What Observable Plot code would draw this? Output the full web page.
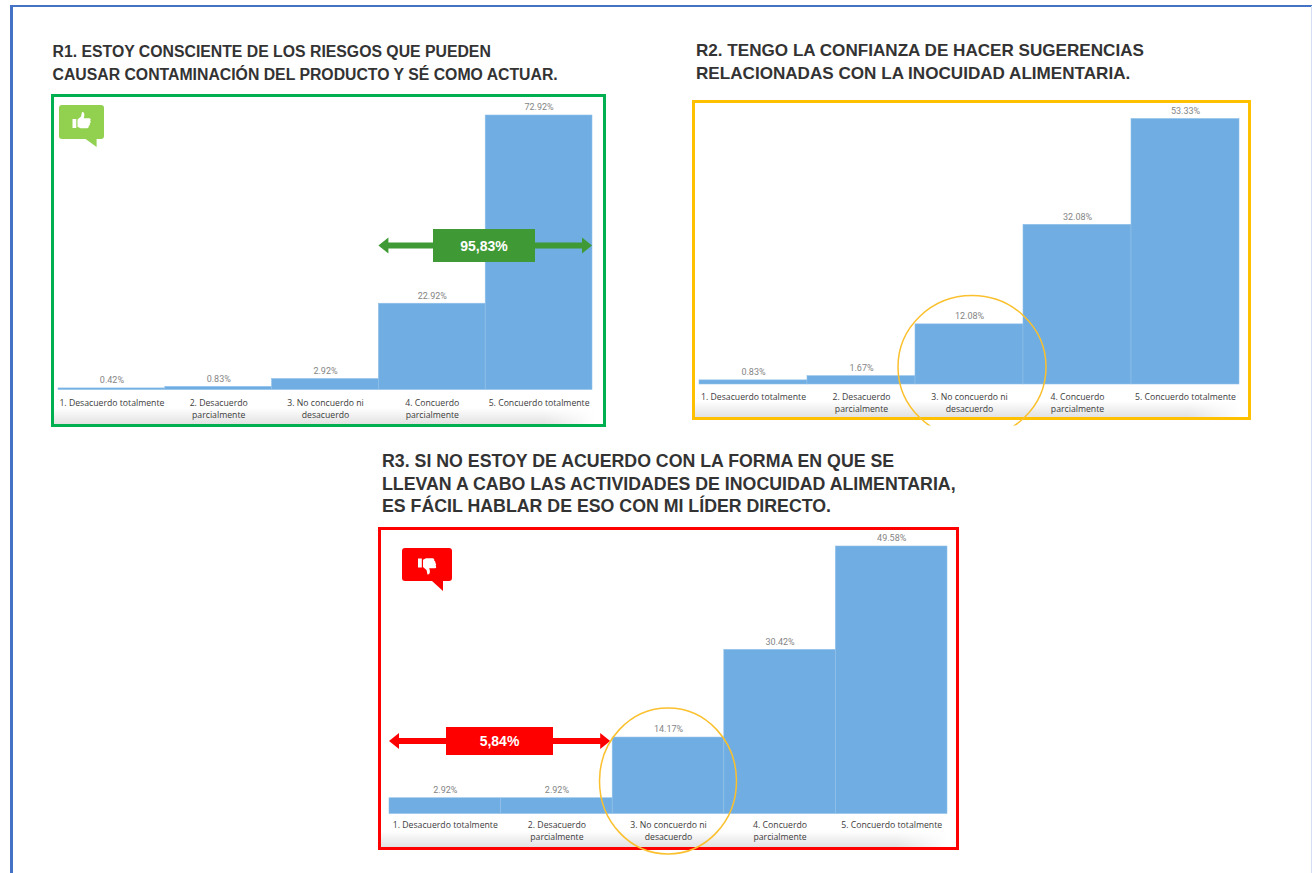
<!DOCTYPE html>
<html lang="es">
<head>
<meta charset="utf-8">
<script src="https://cdn.jsdelivr.net/npm/d3@7"></script>
<script src="https://cdn.jsdelivr.net/npm/@observablehq/plot@0.6"></script>
<style>
  html, body { margin: 0; padding: 0; background: #fff; }
  #page { position: relative; width: 1312px; height: 873px; overflow: hidden; background: #fff; }
  #rule-top { position: absolute; left: 10px; top: 4.5px; right: 0; height: 2.5px; background: #4472c4; }
  #rule-left { position: absolute; left: 10px; top: 4.5px; bottom: 0; width: 2.5px; background: #4472c4; }
  #rule-right { position: absolute; right: 0; top: 6px; bottom: 0; width: 1px; background: #d5dff1; }
  .title { position: absolute; font: bold 15.8px/22.5px "Liberation Sans", sans-serif; color: #333; white-space: pre; }
  .frame { position: absolute; box-sizing: border-box; border-style: solid; border-width: 3.5px;
           background:
             linear-gradient(to right, rgba(255,255,255,0) calc(100% - 60px), #fff calc(100% - 8px)),
             linear-gradient(to bottom, #fff 0, #fff calc(100% - 16px), #e2e2e2 100%); }
  .chart { position: absolute; left: 0; top: 0; }
  .badge { position: absolute; }
</style>
</head>
<body>
<div id="page">
  <div id="rule-top"></div>
  <div id="rule-left"></div>
  <div id="rule-right"></div>
</div>
<script>
// Likert scale shared by the three questions
const categories = [
  "1. Desacuerdo totalmente",
  "2. Desacuerdo\nparcialmente",
  "3. No concuerdo ni\ndesacuerdo",
  "4. Concuerdo\nparcialmente",
  "5. Concuerdo totalmente"
];

// Percentage of answers per category
const r1Values = [0.42, 0.83, 2.92, 22.92, 72.92];
const r2Values = [0.83, 1.67, 12.08, 32.08, 53.33];
const r3Values = [2.92, 2.92, 14.17, 30.42, 49.58];

const r1Title = "R1. ESTOY CONSCIENTE DE LOS RIESGOS QUE PUEDEN\nCAUSAR CONTAMINACIÓN DEL PRODUCTO Y SÉ COMO ACTUAR.";
const r2Title = "R2. TENGO LA CONFIANZA DE HACER SUGERENCIAS\nRELACIONADAS CON LA INOCUIDAD ALIMENTARIA.";
const r3Title = "R3. SI NO ESTOY DE ACUERDO CON LA FORMA EN QUE SE\nLLEVAN A CABO LAS ACTIVIDADES DE INOCUIDAD ALIMENTARIA,\nES FÁCIL HABLAR DE ESO CON MI LÍDER DIRECTO.";

const r1Span = "95,83%";
const r3Span = "5,84%";

const page = document.getElementById("page");

// Double-headed arrow with a label box, spanning whole category bands
function spanArrow({from, to, y, color, label, boxWidth, boxHeight, centre, trim = 0}) {
  return (index, {x}, values, dims) => {
    const band = (dims.width - dims.marginLeft - dims.marginRight) / categories.length;
    const x1 = x(categories[from]);
    const x2 = x(categories[to]) + band - trim;
    const g = d3.create("svg:g");
    const head = 10, half = 8, thick = 3;
    g.append("path").attr("fill", color).attr("d",
      `M${x1},${y} L${x1 + head},${y - half} L${x1 + head},${y - thick} L${x2 - head},${y - thick}
       L${x2 - head},${y - half} L${x2},${y} L${x2 - head},${y + half} L${x2 - head},${y + thick}
       L${x1 + head},${y + thick} L${x1 + head},${y + half} Z`);
    g.append("rect").attr("fill", color)
      .attr("x", centre - boxWidth / 2).attr("y", y - boxHeight / 2)
      .attr("width", boxWidth).attr("height", boxHeight);
    g.append("text").text(label).attr("fill", "#fff")
      .attr("x", centre).attr("y", y).attr("dy", "0.36em")
      .attr("text-anchor", "middle")
      .style("font", "bold 14px 'Liberation Sans', sans-serif");
    return g.node();
  };
}

// Highlight ring around the neutral category, optionally cut off below
function ring({cy, rx, ry, shift = 0, clipBottom = null}) {
  return (index, {x}, values, dims) => {
    const band = (dims.width - dims.marginLeft - dims.marginRight) / categories.length;
    const cx = x(categories[2]) + band / 2 + shift;
    const g = d3.create("svg:g");
    const e = g.append("ellipse").attr("cx", cx).attr("cy", cy).attr("rx", rx).attr("ry", ry)
      .attr("fill", "none").attr("stroke", "#fbc02d").attr("stroke-width", 1.5);
    if (clipBottom != null) {
      g.append("clipPath").attr("id", "ring-clip")
        .append("rect").attr("x", cx - rx - 5).attr("y", cy - ry - 5)
        .attr("width", 2 * rx + 10).attr("height", clipBottom - cy + ry + 5);
      e.attr("clip-path", "url(#ring-clip)");
    }
    return g.node();
  };
}

function drawPanel({values, title, titleX, titleY, titleSize, frame, color, plot, extras = []}) {
  const t = document.createElement("div");
  t.className = "title";
  t.style.left = titleX + "px";
  t.style.top = titleY + "px";
  t.style.fontSize = titleSize + "px";
  t.textContent = title;
  page.appendChild(t);

  const box = document.createElement("div");
  box.className = "frame";
  box.style.cssText = `left:${frame.x}px;top:${frame.y}px;width:${frame.w}px;height:${frame.h}px;border-color:${color}`;
  page.appendChild(box);

  const rows = categories.map((category, i) => ({category, value: values[i]}));
  const chart = Plot.plot({
    width: frame.w,
    height: frame.h,
    marginLeft: plot.left,
    marginRight: plot.right,
    marginTop: plot.top,
    marginBottom: plot.bottom,
    style: {background: "transparent", overflow: "visible"},
    x: {domain: categories, padding: 0, round: false, label: null},
    y: {domain: [0, d3.max(values)], axis: null},
    marks: [
      Plot.barY(rows, {x: "category", y: "value", fill: "#6fade2", stroke: "#92c1ea", strokeWidth: 0.6}),
      Plot.text(rows, {
        x: "category", y: "value", text: d => d.value.toFixed(2) + "%",
        dy: -8, fill: "#858585", fontSize: 9, fontFamily: "Roboto, sans-serif",
        letterSpacing: 0.6
      }),
      Plot.axisX({
        tickSize: 0, tickPadding: plot.tickPadding, label: null, fill: "#3c3c3c",
        fontSize: 8.7, fontFamily: "'Open Sans', sans-serif", lineHeight: 1.4,
        lineWidth: 40
      }),
      ...extras
    ]
  });
  chart.classList.add("chart");
  chart.style.left = frame.x + "px";
  chart.style.top = frame.y + "px";
  page.appendChild(chart);
}

// Speech-bubble badge with a thumb, flipped for the negative panel
function badge({x, y, w, h, tail, color, down}) {
  const wrap = document.createElement("div");
  wrap.className = "badge";
  wrap.style.cssText = `left:${x}px;top:${y}px`;
  const tx = w * 0.68;
  const thumb = `<g fill="#fff" transform="translate(${w / 2},${h / 2}) scale(${down ? "1,-1" : "1,1"})">
      <rect x="-9" y="-3" width="3.8" height="9"/>
      <path d="M-4,-2.5 L-0.5,-5.5 L0.5,-10 C3,-10.5 3.5,-7 2.2,-3.8 L8,-3.8 C9.6,-3.6 9.4,-1.8 8.6,-1.2
               C9.6,-0.4 9.2,1 8.2,1.4 C8.9,2.4 8.2,3.6 7.2,3.8 C7.6,5 6.8,6.2 5.6,6.2 L-1,6.2 L-4,4.8 Z"/>
    </g>`;
  wrap.innerHTML = `<svg width="${w}" height="${h + tail}" style="display:block">
      <path fill="${color}" d="M3,0 H${w - 3} Q${w},0 ${w},3 V${h - 3} Q${w},${h} ${w - 3},${h} H${tx + 7}
               V${h + tail} L${tx - 4},${h} H3 Q0,${h} 0,${h - 3} V3 Q0,0 3,0 Z"/>
      ${thumb}
    </svg>`;
  page.appendChild(wrap);
}

drawPanel({
  values: r1Values, title: r1Title, titleX: 52.5, titleY: 41, titleSize: 15.8,
  frame: {x: 51, y: 94, w: 555, h: 333}, color: "#00b050",
  plot: {left: 7, right: 14, top: 21, bottom: 37.5, tickPadding: 7},
  extras: [spanArrow({from: 3, to: 4, y: 151.5, color: "#3f9a35", label: r1Span, boxWidth: 102, boxHeight: 33, centre: 433})]
});

drawPanel({
  values: r2Values, title: r2Title, titleX: 696, titleY: 40, titleSize: 17.1,
  frame: {x: 692, y: 100, w: 559, h: 320}, color: "#ffc000",
  plot: {left: 7, right: 12, top: 18.5, bottom: 36, tickPadding: 7},
  extras: [ring({cy: 267, rx: 74, ry: 71.5, shift: 3, clipBottom: 325.5})]
});

drawPanel({
  values: r3Values, title: r3Title, titleX: 382, titleY: 450, titleSize: 17.75,
  frame: {x: 378, y: 527, w: 581, h: 323}, color: "#ff0000",
  plot: {left: 11, right: 12, top: 19, bottom: 36.5, tickPadding: 5.5},
  extras: [
    spanArrow({from: 0, to: 1, y: 214, color: "#ff0000", label: r3Span, boxWidth: 107, boxHeight: 28, centre: 121.5, trim: 2}),
    ring({cy: 254, rx: 68.5, ry: 73})
  ]
});

badge({x: 59, y: 105, w: 45, h: 34, tail: 8, color: "#92d050", down: false});
badge({x: 402, y: 548, w: 50, h: 33, tail: 10, color: "#ff0000", down: true});
</script>
</body>
</html>
